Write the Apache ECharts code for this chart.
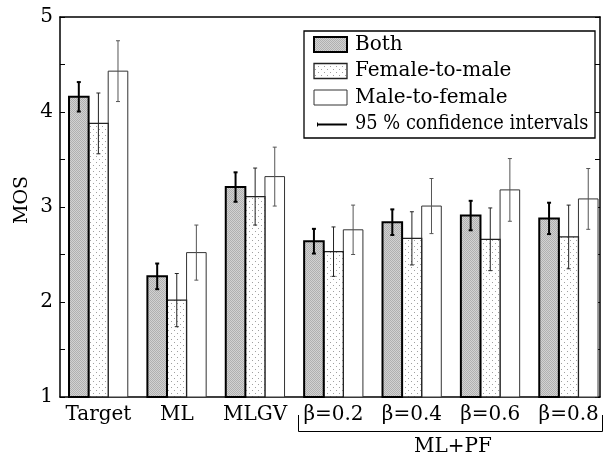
<!DOCTYPE html>
<html><head><meta charset="utf-8">
<script src="https://cdn.jsdelivr.net/npm/echarts@6/dist/echarts.min.js"></script>
<style>html,body{margin:0;padding:0;background:#fff}#c{width:606px;height:455px}</style>
</head><body><div id="c"></div>
<script>
const categories = ['Target','ML','MLGV','β=0.2','β=0.4','β=0.6','β=0.8'];
const both      = [4.16, 2.27, 3.21, 2.64, 2.84, 2.91, 2.88];
const bothErr   = [0.155,0.135,0.155,0.13, 0.135,0.155,0.165];
const f2m       = [3.88, 2.02, 3.11, 2.53, 2.67, 2.66, 2.685];
const f2mErr    = [0.32, 0.28, 0.30, 0.26, 0.28, 0.33, 0.335];
const m2f       = [4.43, 2.52, 3.32, 2.76, 3.01, 3.18, 3.085];
const m2fErr    = [0.32, 0.29, 0.31, 0.26, 0.29, 0.33, 0.32];
const yTicks = [1,2,3,4,5];

const FONT = '"DejaVu Serif", serif';

function hatch(){const c=document.createElement('canvas');c.width=2;c.height=2;const g=c.getContext('2d');
 g.fillStyle='#d2d2d2';g.fillRect(0,0,2,2);g.fillStyle='#b0b0b0';g.fillRect(0,0,1,1);g.fillRect(1,1,1,1);return c;}
function dots(){const c=document.createElement('canvas');c.width=6;c.height=6;const g=c.getContext('2d');
 g.fillStyle='#ffffff';g.fillRect(0,0,6,6);g.fillStyle='#a0a0a0';g.fillRect(0,0,1,1);g.fillRect(3,3,1,1);return c;}
const hatchPat = {image: hatch(), repeat: 'repeat'};
const dotPat = {image: dots(), repeat: 'repeat'};

const BW = 0.25;
function makeSeries(name, vals, errs, offset, fill, edge, edgeW, errColor, errW, z){
  return {
    name, type:'custom', z,
    data: vals.map((v,i)=>[i+1, v, errs[i]]),
    encode:{x:0,y:1},
    renderItem(params, api){
      const x = api.value(0) + offset, v = api.value(1), e = api.value(2);
      const p0 = api.coord([x - BW/2, 1]);
      const p1 = api.coord([x + BW/2, v]);
      const t = api.coord([x, v + e]), b = api.coord([x, v - e]);
      const cap = 2;
      return {type:'group', children:[
        {type:'rect', shape:{x:p0[0], y:p1[1], width:p1[0]-p0[0], height:p0[1]-p1[1]},
         style:{fill, stroke:edge, lineWidth:edgeW}},
        {type:'line', shape:{x1:t[0],y1:t[1],x2:b[0],y2:b[1]}, style:{stroke:errColor,lineWidth:errW}, z2:5},
        {type:'line', shape:{x1:t[0]-cap,y1:t[1],x2:t[0]+cap,y2:t[1]}, style:{stroke:errColor,lineWidth:errW}, z2:5},
        {type:'line', shape:{x1:b[0]-cap,y1:b[1],x2:b[0]+cap,y2:b[1]}, style:{stroke:errColor,lineWidth:errW}, z2:5}
      ]};
    }
  };
}

const chart = echarts.init(document.getElementById('c'), null, {renderer:'canvas'});
const axisLine = {show:true, lineStyle:{color:'#000', width:1.5}};
const yMinor = [1,1.5,2,2.5,3,3.5,4,4.5,5];
const txt = {fill:'#000', font:'20px '+FONT, textVerticalAlign:'middle'};
chart.setOption({
  animation:false,
  grid:{left:60, right:6, top:17, bottom:58, containLabel:false},
  xAxis:[
    {type:'value', min:0.51, max:7.4, position:'bottom', axisLine, splitLine:{show:false},
     axisTick:{show:false},
     axisLabel:{customValues:[1,2,3,4,5,6,7], formatter:v=>categories[Math.round(v)-1], color:'#000', fontFamily:FONT, fontSize:20, margin:8}},
    {type:'value', min:0.51, max:7.4, position:'top', axisLine, splitLine:{show:false}, axisTick:{show:false}, axisLabel:{show:false}}
  ],
  yAxis:[
    {type:'value', min:1, max:5, interval:0.5, position:'left', axisLine, splitLine:{show:false},
     axisTick:{inside:true, length:5, customValues:yMinor, lineStyle:{color:'#000', width:1}},
     axisLabel:{customValues:yTicks, color:'#000', fontFamily:FONT, fontSize:20, margin:7}},
    {type:'value', min:1, max:5, interval:0.5, position:'right', axisLine, splitLine:{show:false},
     axisTick:{inside:true, length:5, customValues:yMinor, lineStyle:{color:'#000', width:1}},
     axisLabel:{show:false}}
  ],
  series:[
    makeSeries('Male-to-female', m2f, m2fErr, BW, '#ffffff', '#333', 1, '#555', 1, 2),
    makeSeries('Female-to-male', f2m, f2mErr, 0, dotPat, '#222', 1.3, '#222', 1, 3),
    makeSeries('Both', both, bothErr, -BW, hatchPat, '#000', 2, '#000', 2, 4)
  ],
  graphic:[
    {type:'text', x:22, y:200, rotation:Math.PI/2, style:{text:'MOS', fill:'#000', font:'19px '+FONT, textAlign:'center', textVerticalAlign:'middle'}},
    // legend
    {type:'rect', z:10, shape:{x:304, y:31, width:291, height:107}, style:{fill:'#fff', stroke:'#000', lineWidth:1.3}},
    {type:'rect', z:11, shape:{x:314, y:37, width:33, height:15}, style:{fill:hatchPat, stroke:'#000', lineWidth:2}},
    {type:'text', z:11, x:355, y:45, style:Object.assign({text:'Both'}, txt)},
    {type:'rect', z:11, shape:{x:314, y:63.5, width:33, height:15}, style:{fill:dotPat, stroke:'#222', lineWidth:1.3}},
    {type:'text', z:11, x:355, y:71, style:Object.assign({text:'Female-to-male'}, txt)},
    {type:'rect', z:11, shape:{x:314, y:90, width:33, height:15}, style:{fill:'#fff', stroke:'#333', lineWidth:1}},
    {type:'text', z:11, x:355, y:97.5, style:Object.assign({text:'Male-to-female'}, txt)},
    {type:'line', z:11, shape:{x1:317, y1:124.5, x2:347, y2:124.5}, style:{stroke:'#000', lineWidth:2}},
    {type:'line', z:11, shape:{x1:317.5, y1:122.5, x2:317.5, y2:126.5}, style:{stroke:'#000', lineWidth:1}},
    {type:'text', z:11, x:355, y:123.5, scaleX:0.89, style:Object.assign({text:'95 % confidence intervals'}, txt)},
    // bracket
    {type:'polyline', shape:{points:[[298.5,415],[298.5,431.5],[602.5,431.5],[602.5,415]]}, style:{stroke:'#000', lineWidth:1, fill:null}},
    {type:'text', x:453, y:447, style:{text:'ML+PF', fill:'#000', font:'20px '+FONT, textAlign:'center', textVerticalAlign:'middle'}}
  ]
});
</script></body></html>
